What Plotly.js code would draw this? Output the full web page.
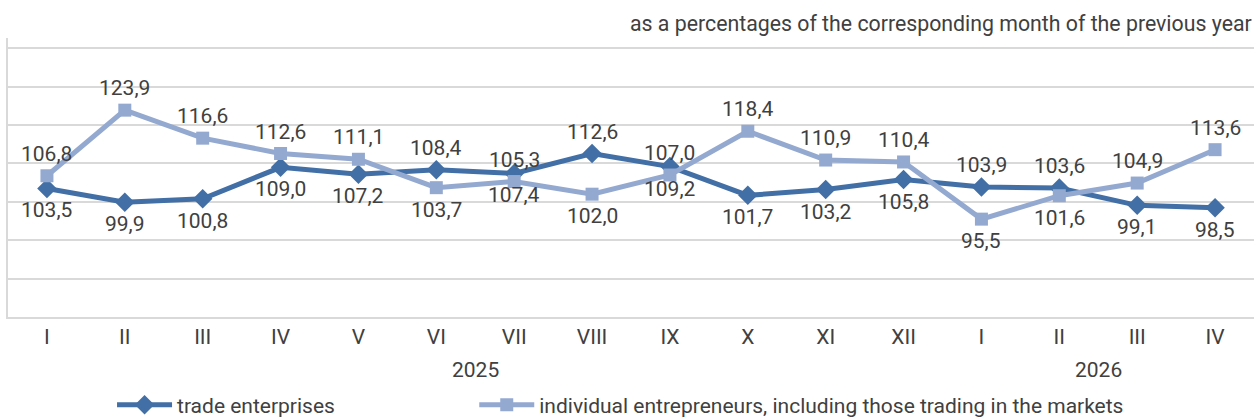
<!DOCTYPE html>
<html>
<head>
<meta charset="utf-8">
<script src="https://cdn.plot.ly/plotly-3.0.1.min.js"></script>
<style>html,body{margin:0;padding:0;background:#fff;}#chart{width:1256px;height:419px;}</style>
</head>
<body>
<div id="chart"></div>
<script>
const months = ["I","II","III","IV","V","VI","VII","VIII","IX","X","XI","XII","I","II","III","IV"];
const years = ["2025","2026"];
const yearCenters = [5.5, 13.5];
const tradeValues = [103.5, 99.9, 100.8, 109.0, 107.2, 108.4, 107.4, 112.6, 109.2, 101.7, 103.2, 105.8, 103.9, 103.6, 99.1, 98.5];
const indivValues = [106.8, 123.9, 116.6, 112.6, 111.1, 103.7, 105.3, 102.0, 107.0, 118.4, 110.9, 110.4, 95.5, 101.6, 104.9, 113.6];
const tradePos = ["b","b","b","b","b","t","b","t","b","b","b","b","t","t","b","b"];
const indivPos = ["t","t","t","t","t","b","t","b","t","t","t","t","b","b","t","t"];
const seriesNames = ["trade enterprises", "individual entrepreneurs, including those trading in the markets"];
const subtitle = "as a percentages of the corresponding month of the previous year";

const idx = months.map((m, i) => i);
const fmt = v => v.toFixed(1).replace(".", ",");
const darkBlue = "#416fa6";
const lightBlue = "#94a9d0";
const textColor = "#404040";
const FONT = "Roboto, 'Noto Sans', sans-serif";
const FS = 21;
const H = 419, T = 38, B = 102, PH = H - T - B;
const paperY = px => 1 - (px - T) / PH;

const traces = [
  {x: idx, y: tradeValues, name: seriesNames[0], type: "scatter", mode: "lines+markers", legend: "legend",
   line: {color: darkBlue, width: 5}, marker: {symbol: "diamond", size: 15, color: darkBlue}},
  {x: idx, y: indivValues, name: seriesNames[1], type: "scatter", mode: "lines+markers", legend: "legend2",
   line: {color: lightBlue, width: 5}, marker: {symbol: "square", size: 13, color: lightBlue}}
];

const annotations = [];
function addLabels(vals, pos) {
  vals.forEach((v, i) => {
    annotations.push({x: i, y: v, xref: "x", yref: "y", text: fmt(v), showarrow: false,
      yshift: pos[i] === "t" ? 22 : -22, font: {family: FONT, size: FS, color: textColor}});
  });
}
addLabels(tradeValues, tradePos);
addLabels(indivValues, indivPos);
years.forEach((yr, k) => {
  annotations.push({x: yearCenters[k], y: paperY(370), xref: "x", yref: "paper", yanchor: "middle",
    text: yr, showarrow: false, font: {family: FONT, size: FS, color: textColor}});
});
annotations.push({x: 1, y: paperY(24), xref: "paper", yref: "paper", xanchor: "right", yanchor: "middle",
  text: subtitle, showarrow: false, font: {family: FONT, size: 21.3, color: textColor}});

const legendCommon = {orientation: "h", xanchor: "left", yref: "container", y: (H - 405) / H, yanchor: "middle",
  font: {family: FONT, size: FS, color: textColor}, itemwidth: 55, bgcolor: "rgba(0,0,0,0)"};

const layout = {
  width: 1256, height: H,
  margin: {l: 8, r: 2, t: T, b: B, autoexpand: false},
  paper_bgcolor: "#fff", plot_bgcolor: "#fff",
  showlegend: true,
  legend: Object.assign({}, legendCommon, {x: 0.0835}),
  legend2: Object.assign({}, legendCommon, {x: 0.3742}),
  xaxis: {range: [-0.5, 15.5], tickvals: idx, ticktext: months, showgrid: false, zeroline: false,
    showline: true, linecolor: "#d9d9d9", linewidth: 2, ticks: "", automargin: false,
    tickfont: {family: FONT, size: FS, color: textColor}, fixedrange: true},
  yaxis: {range: [70, 142.7], dtick: 10, tick0: 70, showticklabels: false, showgrid: true,
    gridcolor: "#d9d9d9", gridwidth: 2, zeroline: false, showline: true, linecolor: "#d9d9d9", linewidth: 2,
    ticks: "", automargin: false, fixedrange: true},
  annotations: annotations,
  font: {family: FONT}
};

Plotly.newPlot("chart", traces, layout, {displayModeBar: false, staticPlot: true});
</script>
</body>
</html>
